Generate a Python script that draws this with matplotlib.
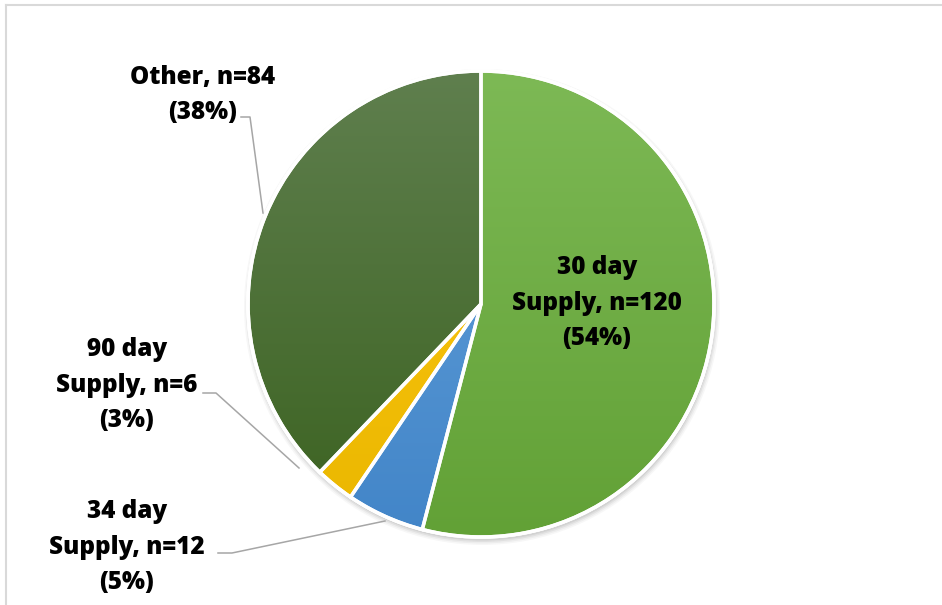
import numpy as np
import matplotlib
matplotlib.use("Agg")
import matplotlib.pyplot as plt
from matplotlib.patches import Circle, Wedge
from matplotlib.colors import LinearSegmentedColormap

# ── 数据 ──
categories = ["30 day\nSupply", "34 day\nSupply", "90 day\nSupply", "Other"]
counts = [120, 12, 6, 84]
percents = [54, 5, 3, 38]

# 渐变色 (上浅下深)
colors_top = ["#7DB955", "#66A3DC", "#FFC814", "#5F7F4E"]
colors_bot = ["#62A136", "#4285C8", "#EAB700", "#3B6220"]

W, H = 942, 605
fig = plt.figure(figsize=(W / 100, H / 100), dpi=100)
ax = fig.add_axes([0, 0, 1, 1])

cx, cy, r = 481, H - 304, 233

# 阴影 (柔和)
for k, a in enumerate([0.03, 0.04, 0.05, 0.06]):
    ax.add_patch(Circle((cx + 1, cy - 3), r + 5 - 1.5 * k, color="black", alpha=a, lw=0, zorder=1))

wedges, _ = ax.pie(counts, startangle=90, counterclock=False,
                   center=(cx, cy), radius=r, frame=True,
                   wedgeprops=dict(edgecolor="white", linewidth=2.5))
ax.set_aspect("auto")
ax.axis("off")

grad = np.linspace(0, 1, 256).reshape(-1, 1)
for w, ct, cb in zip(wedges, colors_top, colors_bot):
    w.set_zorder(2)
    cmap = LinearSegmentedColormap.from_list("g", [ct, cb])
    im = ax.imshow(grad, cmap=cmap, aspect="auto", origin="upper",
                   extent=[cx - r, cx + r, cy - r, cy + r], zorder=3)
    im.set_clip_path(w)
    edge = Wedge(w.center, w.r, w.theta1, w.theta2, facecolor="none",
                 edgecolor="white", linewidth=2.5, zorder=4)
    ax.add_patch(edge)
ax.add_patch(Circle((cx, cy), r, facecolor="none", edgecolor="white", lw=2.5, zorder=4))
ax.set_xlim(0, W)
ax.set_ylim(0, H)

font = dict(family=["Open Sans", "DejaVu Sans"], fontsize=17.5, fontweight=800,
            color="black", ha="center", va="center", linespacing=1.55, zorder=5)

def lab(i):
    name = categories[i]
    return f"{name}, n={counts[i]}\n({percents[i]}%)"

ax.text(597, H - 303, lab(0), **font)
ax.text(127, H - 547, lab(1), **font)
ax.text(127, H - 385, lab(2), **font)
ax.text(203, H - 95, lab(3), **font)

# 引导线
lc = dict(color="#A6A6A6", lw=1.1, zorder=5)
ax.plot([241, 250, 263], [H - 117, H - 117, H - 213], **lc)
ax.plot([203, 216, 299], [H - 393, H - 393, H - 468], **lc)
ax.plot([218, 232, 385], [H - 553, H - 553, H - 521], **lc)

# 外框
ax.plot([5.5, 5.5], [0, H - 4.5], color="#D9D9D9", lw=1.5, zorder=0)
ax.plot([5.5, W], [H - 4.5, H - 4.5], color="#D9D9D9", lw=1.5, zorder=0)

fig.savefig("out.png", dpi=100)
